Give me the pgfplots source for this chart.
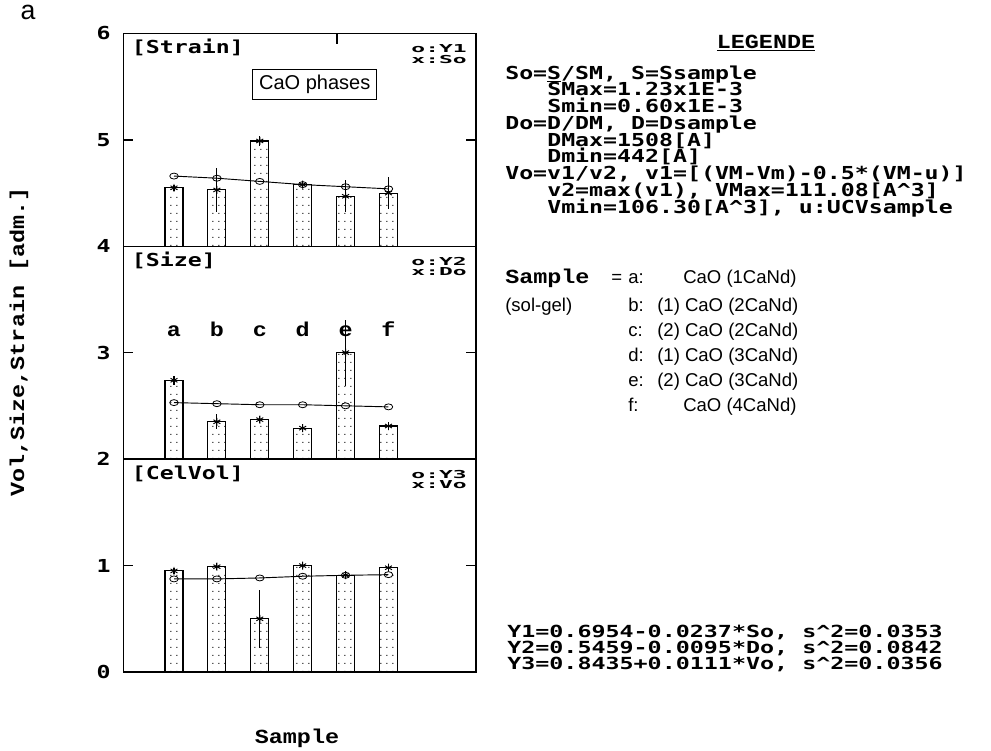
\documentclass[border=0pt]{standalone}
\usepackage{pgfplots}
\pgfplotsset{compat=1.18}
\usepackage{pgfplotstable}
\usetikzlibrary{patterns}
\usepackage{fontspec}
\setmainfont{Liberation Sans}
\newfontfamily\pxfont[FakeStretch=1.30]{DejaVu Sans Mono Bold}
\newfontfamily\pxwide[FakeStretch=1.40]{DejaVu Sans Mono Bold}
\newfontfamily\pxnarrow[FakeStretch=2.10]{DejaVu Sans Mono Bold}
\newfontfamily\crfont[FakeStretch=1.17]{Liberation Mono Bold}

% fine dot raster used inside the bars
\pgfdeclarepatternformonly{bardots}{\pgfpointorigin}{\pgfqpoint{4.35pt}{5.7pt}}{\pgfqpoint{4.35pt}{5.7pt}}{%
  \pgfpathrectangle{\pgfqpoint{1.8pt}{2.5pt}}{\pgfqpoint{0.75pt}{0.75pt}}\pgfusepath{fill}}

\newcommand\pxtext{\pxfont\fontsize{13.4}{15}\selectfont}
\newcommand\pxfit{\pxwide\fontsize{12.5}{14}\selectfont}
\newcommand\pxsmall{\pxnarrow\fontsize{8.2}{9}\selectfont}
\newcommand\crtext{\crfont\fontsize{15}{17}\selectfont}

% strain panel (So bars, Y1 fit)
\pgfplotstableread{
x  s     se    y1
1  4.55  0.03  4.66
2  4.53  0.21  4.64
3  4.99  0.05  4.61
4  4.58  0.03  4.58
5  4.47  0.15  4.56
6  4.50  0.15  4.54
}\strain
% size panel (Do bars, Y2 fit)
\pgfplotstableread{
x  s     se    y1
1  2.74  0.04  2.53
2  2.35  0.07  2.52
3  2.37  0.03  2.51
4  2.29  0.03  2.51
5  3.00  0.31  2.50
6  2.31  0.03  2.49
}\size
% cell volume panel (Vo bars, Y3 fit)
\pgfplotstableread{
x  s     se    y1
1  0.95  0.03  0.875
2  0.99  0.03  0.875
3  0.50  0.27  0.884
4  1.00  0.03  0.900
5  0.91  0.02  0.909
6  0.98  0.03  0.915
}\celvol

\pgfplotsset{
  panel/.style={
    width=264.5pt, height=159.6pt, scale only axis,
    anchor=south west,
    xmin=-0.182, xmax=8.04,
    tick align=inside, ytick pos=both, yticklabel pos=left,
    major tick length=7.5pt,
    axis line style={line width=0.9pt},
    every tick/.style={black, line width=0.9pt},
    /pgf/number format/assume math mode=true,
    yticklabel style={font=\pxtext, xshift=-6pt},
    clip=true,
  },
  bars/.style={ybar, bar width=13.5pt, bar shift=0pt, draw=black,
    line width=0.8pt, pattern=bardots, pattern color=black},
  xpts/.style={only marks, mark=asterisk, mark size=3pt,
    mark options={line width=0.7pt},
    error bars/.cd, y dir=both, y explicit, error mark=none,
    error bar style={line width=0.8pt}},
  opts/.style={black, line width=0.7pt, mark=o, mark size=3.2pt,
    mark options={densely dotted, yscale=0.7, line width=0.6pt, solid}},
}

\begin{document}
\begin{tikzpicture}[x=0.75pt,y=-0.75pt]
\path[use as bounding box] (0,0) rectangle (991,750);

% top panel: strain
\begin{axis}[panel, at={(92.475pt,-184.725pt)},
  ymin=4, ymax=6, ytick={4,5,6},
  xtick={4.8}, xtick pos=right, xticklabels={}]
\addplot[bars] table[x=x,y=s]{\strain};
\addplot[opts] table[x=x,y=y1]{\strain};
\addplot[xpts] table[x=x,y=s,y error=se]{\strain};
\end{axis}

% middle panel: size
\begin{axis}[panel, at={(92.475pt,-344.25pt)},
  ymin=2, ymax=4, ytick={2,3}, xtick=\empty]
\addplot[bars] table[x=x,y=s]{\size};
\addplot[opts] table[x=x,y=y1]{\size};
\addplot[xpts] table[x=x,y=s,y error=se]{\size};
\foreach \i/\l in {1/a,2/b,3/c,4/d,5/e,6/f}{
  \edef\tmp{\noexpand\node[anchor=base, font=\noexpand\crtext] at (axis cs:\i,3.15) {\l};}\tmp}
\end{axis}

% bottom panel: cell volume
\begin{axis}[panel, at={(92.475pt,-504pt)},
  ymin=0, ymax=2, ytick={0,1}, xtick=\empty]
\addplot[bars] table[x=x,y=s]{\celvol};
\addplot[opts] table[x=x,y=y1]{\celvol};
\addplot[xpts] table[x=x,y=s,y error=se]{\celvol};
\end{axis}

% panel titles and series keys
\node[anchor=base west, font=\pxtext, inner sep=0] at (131.7,53.5) {[Strain]};
\node[anchor=base west, font=\pxtext, inner sep=0] at (131.7,266.3) {[Size]};
\node[anchor=base west, font=\pxtext, inner sep=0] at (131.7,479) {[CelVol]};
\foreach \yy/\a/\b in {52.5/Y1/So, 265.3/Y2/Do, 478/Y3/Vo}{
  \node[anchor=base east, font=\pxsmall, inner sep=0] at (467,\yy) {o:\a};
  \node[anchor=base east, font=\pxsmall, inner sep=0] at (467,\yy+10.5) {x:\b};
}
\node[draw=black, line width=0.7pt, font=\fontsize{15}{17}\selectfont,
  minimum width=93pt, minimum height=22.5pt, inner sep=0] at (314.7,84.3) {CaO phases};

% axis titles
\node[rotate=90, font=\crtext] at (19,342) {Vol,Size,Strain [adm.]};
\node[anchor=base, font=\crtext] at (297,743) {Sample};
\node[font=\fontsize{20}{22}\selectfont] at (28,12) {a};

% legend block
\node[anchor=base, font=\crtext] at (766,48) {\underline{LEGENDE}};
\begin{scope}[every node/.style={anchor=base west, font=\pxtext, inner sep=0}]
\node at (505,79)     {So=\underline{S}/SM, S=Ssample};
\node at (547,95.75)  {SMax=1.23x1E-3};
\node at (547,112.5)  {Smin=0.60x1E-3};
\node at (505,129.25) {Do=D/DM, D=Dsample};
\node at (547,146)    {DMax=1508[A]};
\node at (547,162.75) {Dmin=442[A]};
\node at (505,179.5)  {Vo=v1/v2, v1=[(VM-Vm)-0.5*(VM-u)]};
\node at (547,196.25) {v2=max(v1), VMax=111.08[A\textasciicircum 3]};
\node at (547,213)    {Vmin=106.30[A\textasciicircum 3], u:UCVsample};
\end{scope}
% fitted regressions
\begin{scope}[every node/.style={anchor=base west, font=\pxfit, inner sep=0}]
\node at (507,637)    {Y1=0.6954-0.0237*So, s\textasciicircum 2=0.0353};
\node at (507,653)    {Y2=0.5459-0.0095*Do, s\textasciicircum 2=0.0842};
\node at (507,669)    {Y3=0.8435+0.0111*Vo, s\textasciicircum 2=0.0356};
\end{scope}

% sample key
\begin{scope}[every node/.style={anchor=base west, font=\fontsize{13.9}{16}\selectfont, inner sep=0}]
\node[font=\crtext] at (505,283) {Sample};
\node at (611,283) {=};
\node at (628,283) {a:}; \node at (683,283) {CaO (1CaNd)};
\node at (505,311) {(sol-gel)};
\node at (628,311) {b:}; \node at (657,311) {(1) CaO (2CaNd)};
\node at (628,336) {c:}; \node at (657,336) {(2) CaO (2CaNd)};
\node at (628,361) {d:}; \node at (657,361) {(1) CaO (3CaNd)};
\node at (628,386) {e:}; \node at (657,386) {(2) CaO (3CaNd)};
\node at (628,411) {f:}; \node at (683,411) {CaO (4CaNd)};
\end{scope}
\end{tikzpicture}
\end{document}
